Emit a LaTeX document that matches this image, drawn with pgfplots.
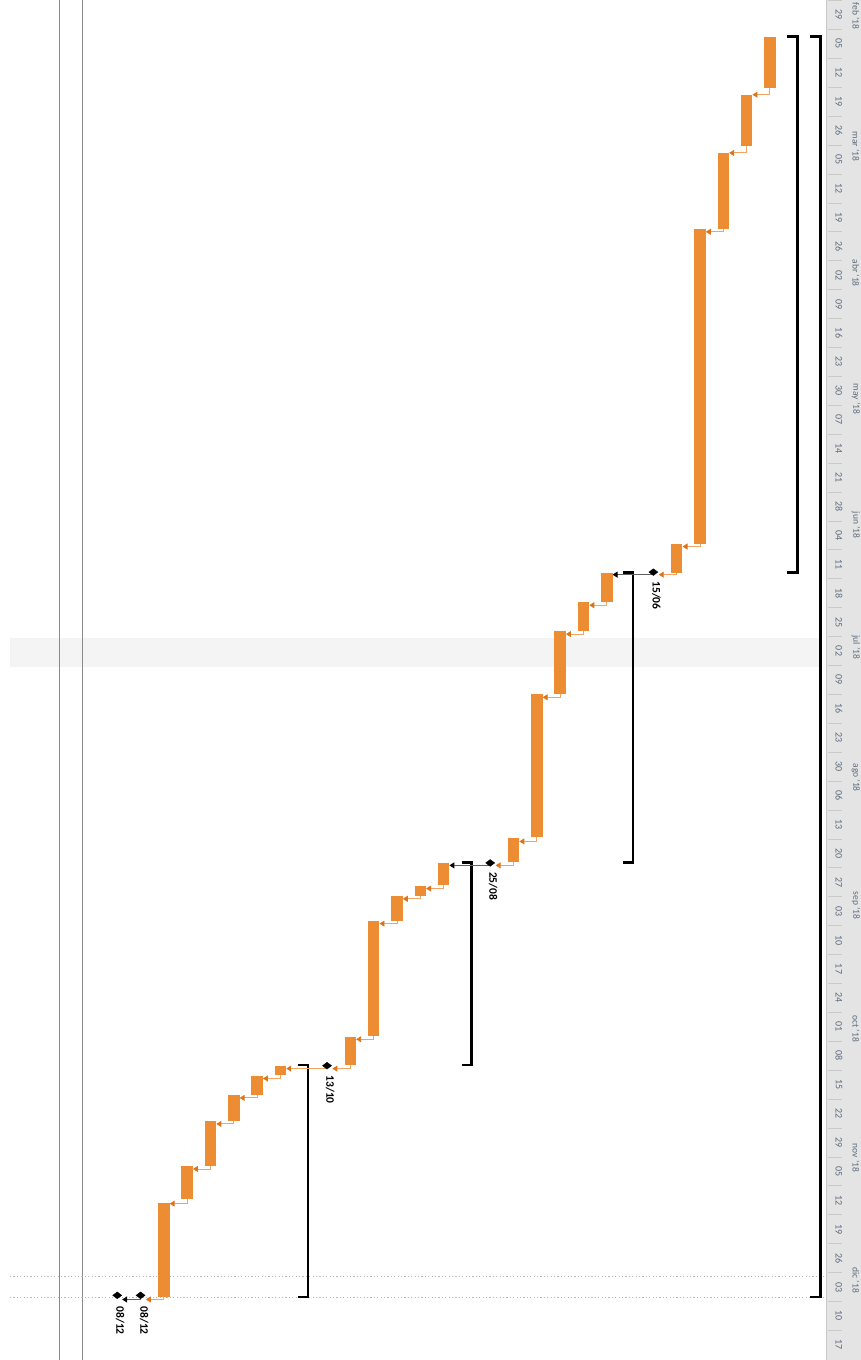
\documentclass[border=0pt]{standalone}
\usepackage{pgfplots}
\pgfplotsset{compat=1.18}
\usepackage{fontspec}
\setmainfont{Carlito}
\usetikzlibrary{arrows.meta}
\definecolor{barc}{HTML}{EC8D34}
\definecolor{linkc}{HTML}{F0A466}
\definecolor{headc}{HTML}{DE7418}
\definecolor{stripc}{HTML}{E4E4E4}
\definecolor{labc}{HTML}{5E6C7C}
\definecolor{bandc}{HTML}{F4F4F4}
\definecolor{vlinec}{HTML}{8A8A8A}
\definecolor{dotc}{HTML}{B8B8B8}
\definecolor{darklink}{HTML}{606060}
\definecolor{sepc}{HTML}{C9C9C9}
\def\wkk#1/#2\relax{\node[wklab] at (axis cs:-0.961,#1) {#2};}
\begin{document}
\begin{tikzpicture}[
  ganttbar/.style={barc, line width=11.5pt},
  lnk/.style={linkc, line width=0.9pt, -{Triangle[length=5pt,width=6pt,color=headc]}},
  dlnk/.style={darklink, line width=0.9pt, -{Triangle[length=5pt,width=6pt,color=black]}},
  brk/.style={black, line width=2.2pt},
  mslab/.style={rotate=-90, anchor=west, inner sep=0pt, font=\bfseries\fontsize{11.5}{13}\selectfont},
  monlab/.style={rotate=-90, anchor=west, inner sep=0pt, font=\fontsize{9.5}{11}\selectfont, text=labc},
  wklab/.style={rotate=-90, anchor=center, inner sep=0pt, font=\fontsize{10}{12}\selectfont, text=labc},
]
\begin{axis}[
  scale only axis, width=861pt, height=1360pt,
  x dir=reverse, y dir=reverse,
  xmin=-1.907, xmax=35.03, ymin=-0.131, ymax=329.16,
  hide axis,
  clip=false,
]
% highlighted week
\addplot[draw=none, fill=bandc] coordinates {(34.6,154.4) (-0.23,154.4) (-0.23,161.4) (34.6,161.4)} -- cycle;
% timescale strip
\addplot[draw=none, fill=stripc] coordinates {(-0.40,-0.131) (-1.907,-0.131) (-1.907,329.16) (-0.40,329.16)} -- cycle;
\addplot[sepc, line width=0.8pt] coordinates {(-0.425,-0.131) (-0.425,329.16)};
\pgfplotsinvokeforeach{0,7,...,322}{\addplot[sepc, line width=0.8pt] coordinates {(-0.50,#1) (-1.08,#1)};}
% week labels (week centre in days, Monday date)
\pgfplotsinvokeforeach{3.5/29,10.5/05,17.5/12,24.5/19,31.5/26,38.5/05,45.5/12,52.5/19,59.5/26,66.5/02,73.5/09,80.5/16,87.5/23,94.5/30,101.5/07,108.5/14,115.5/21,122.5/28,129.5/04,136.5/11,143.5/18,150.5/25,157.5/02,164.5/09,171.5/16,178.5/23,185.5/30,192.5/06,199.5/13,206.5/20,213.5/27,220.5/03,227.5/10,234.5/17,241.5/24,248.5/01,255.5/08,262.5/15,269.5/22,276.5/29,283.5/05,290.5/12,297.5/19,304.5/26,311.5/03,318.5/10,325.5/17}{\wkk #1\relax}
% month labels
\node[monlab] at ([yshift=-2pt]axis cs:-1.69,0) {feb '18};
\node[monlab] at ([yshift=-3pt]axis cs:-1.69,31) {mar '18};
\node[monlab] at ([yshift=-3pt]axis cs:-1.69,62) {abr '18};
\node[monlab] at ([yshift=-3pt]axis cs:-1.69,92) {may '18};
\node[monlab] at ([yshift=-3pt]axis cs:-1.69,123) {jun '18};
\node[monlab] at ([yshift=-3pt]axis cs:-1.69,153) {jul '18};
\node[monlab] at ([yshift=-3pt]axis cs:-1.69,184) {ago '18};
\node[monlab] at ([yshift=-3pt]axis cs:-1.69,215) {sep '18};
\node[monlab] at ([yshift=-3pt]axis cs:-1.69,245) {oct '18};
\node[monlab] at ([yshift=-3pt]axis cs:-1.69,276) {nov '18};
\node[monlab] at ([yshift=-3pt]axis cs:-1.69,306) {dic '18};
% left grid lines
\addplot[vlinec, line width=0.8pt] coordinates {(32.46,-0.131) (32.46,329.16)};
\addplot[vlinec, line width=0.8pt] coordinates {(31.51,-0.131) (31.51,329.16)};
% dotted date lines
\addplot[dotc, line width=0.7pt, dash pattern=on 1.2pt off 2.2pt] coordinates {(34.6,309.0) (-0.35,309.0)};
\addplot[dotc, line width=0.7pt, dash pattern=on 1.2pt off 2.2pt] coordinates {(34.6,314.1) (-0.35,314.1)};
% summary brackets
\addplot[brk] coordinates {(0.26,8.7) (-0.17,8.7) (-0.17,313.9) (0.26,313.9)};
\addplot[brk] coordinates {(1.25,8.7) (0.82,8.7) (0.82,138.5) (1.25,138.5)};
\addplot[brk] coordinates {(8.29,138.5) (7.86,138.5) (7.86,208.7) (8.29,208.7)};
\addplot[brk] coordinates {(15.23,208.7) (14.80,208.7) (14.80,257.8) (15.23,257.8)};
\addplot[brk] coordinates {(22.24,257.8) (21.81,257.8) (21.81,313.9) (22.24,313.9)};
% links
\addplot[lnk] coordinates {(2,21.2) (2,22.8) (2.75,22.8)};
\addplot[lnk] coordinates {(3,35.2) (3,36.9) (3.75,36.9)};
\addplot[lnk] coordinates {(4,55.4) (4,56.0) (4.75,56.0)};
\addplot[lnk] coordinates {(5,131.5) (5,132.2) (5.75,132.2)};
\addplot[lnk] coordinates {(6,138.5) (6,139.0) (6.77,139.0)};
\addplot[dlnk] coordinates {(7,139.0) (8.75,139.0)};
\addplot[lnk] coordinates {(9,145.7) (9,146.4) (9.75,146.4)};
\addplot[lnk] coordinates {(10,152.7) (10,153.4) (10.75,153.4)};
\addplot[lnk] coordinates {(11,168.0) (11,168.7) (11.75,168.7)};
\addplot[lnk] coordinates {(12,202.5) (12,203.6) (12.75,203.6)};
\addplot[lnk] coordinates {(13,208.7) (13,209.4) (13.77,209.4)};
\addplot[dlnk] coordinates {(14,209.4) (15.75,209.4)};
\addplot[lnk] coordinates {(16,214.2) (16,215.0) (16.75,215.0)};
\addplot[lnk] coordinates {(17,216.8) (17,217.5) (17.75,217.5)};
\addplot[lnk] coordinates {(18,222.8) (18,223.5) (18.75,223.5)};
\addplot[lnk] coordinates {(19,250.7) (19,251.5) (19.75,251.5)};
\addplot[lnk] coordinates {(20,257.8) (20,258.6) (20.77,258.6)};
\addplot[lnk] coordinates {(21,258.6) (22.75,258.6)};
\addplot[lnk] coordinates {(23,260.2) (23,261.0) (23.75,261.0)};
\addplot[lnk] coordinates {(24,265.0) (24,265.7) (24.75,265.7)};
\addplot[lnk] coordinates {(25,271.3) (25,272.0) (25.75,272.0)};
\addplot[lnk] coordinates {(26,282.2) (26,282.9) (26.75,282.9)};
\addplot[lnk] coordinates {(27,290.2) (27,291.3) (27.75,291.3)};
\addplot[lnk] coordinates {(28,313.8) (28,314.5) (28.77,314.5)};
\addplot[dlnk] coordinates {(29,314.5) (29.79,314.5)};
% task bars (column, start day, end day; day 0 = 29 Jan 2018)
\addplot[ganttbar] coordinates {(2,8.8) (2,21.2)};
\addplot[ganttbar] coordinates {(3,22.8) (3,35.2)};
\addplot[ganttbar] coordinates {(4,36.8) (4,55.4)};
\addplot[ganttbar] coordinates {(5,55.4) (5,131.5)};
\addplot[ganttbar] coordinates {(6,131.6) (6,138.5)};
\addplot[ganttbar] coordinates {(9,138.7) (9,145.7)};
\addplot[ganttbar] coordinates {(10,145.7) (10,152.7)};
\addplot[ganttbar] coordinates {(11,152.7) (11,168.0)};
\addplot[ganttbar] coordinates {(12,168.0) (12,202.5)};
\addplot[ganttbar] coordinates {(13,202.8) (13,208.7)};
\addplot[ganttbar] coordinates {(16,208.9) (16,214.2)};
\addplot[ganttbar] coordinates {(17,214.4) (17,216.8)};
\addplot[ganttbar] coordinates {(18,216.9) (18,222.8)};
\addplot[ganttbar] coordinates {(19,222.8) (19,250.7)};
\addplot[ganttbar] coordinates {(20,250.9) (20,257.8)};
\addplot[ganttbar] coordinates {(23,258.0) (23,260.2)};
\addplot[ganttbar] coordinates {(24,260.3) (24,265.0)};
\addplot[ganttbar] coordinates {(25,265.0) (25,271.3)};
\addplot[ganttbar] coordinates {(26,271.3) (26,282.2)};
\addplot[ganttbar] coordinates {(27,282.2) (27,290.2)};
\addplot[ganttbar] coordinates {(28,291.1) (28,313.8)};
% milestones
\addplot[only marks, mark=diamond*, mark size=4.5pt, mark options={rotate=90, fill=black, draw=black}]
  coordinates {(7,138.4) (14,208.8) (21,257.9) (29,313.5) (30,313.5)};
\node[mslab] at ([xshift=3pt,yshift=-9pt]axis cs:7,138.4) {15/06};
\node[mslab] at ([xshift=3pt,yshift=-9pt]axis cs:14,208.8) {25/08};
\node[mslab] at ([xshift=3pt,yshift=-9.5pt]axis cs:21,257.9) {13/10};
\node[mslab] at ([xshift=3.5pt,yshift=-11pt]axis cs:29,313.5) {08/12};
\node[mslab] at ([xshift=3pt,yshift=-11pt]axis cs:30,313.5) {08/12};
\coordinate (SW) at (rel axis cs:0,0);
\coordinate (NE) at (rel axis cs:1,1);
\end{axis}
\pgfresetboundingbox
\path (SW) rectangle (NE);
\end{tikzpicture}
\end{document}
